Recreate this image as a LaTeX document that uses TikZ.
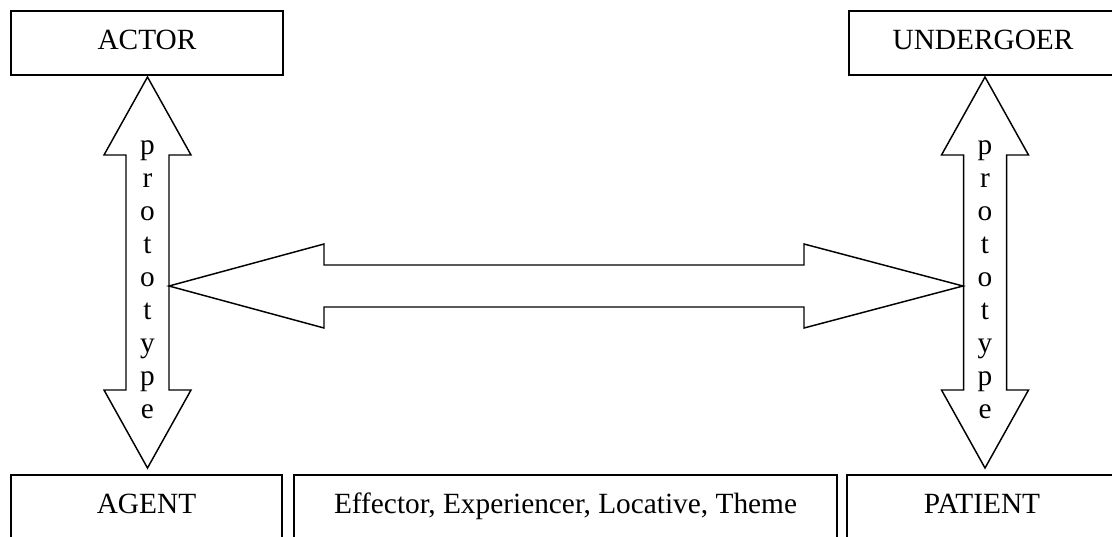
\documentclass[tikz,border=0pt]{standalone}
\usepackage{fontspec}
\setmainfont{Liberation Serif}
\usetikzlibrary{calc}

\tikzset{
  role/.style={draw, line width=1.5pt, inner sep=0pt, anchor=base,
    text height=28.5pt, font=\fontsize{22}{26}\selectfont},
  toprole/.style={role, text depth=19.3pt},
  baserole/.style={role, text depth=50pt},
  blockarrow/.style={draw, line width=1.1pt, miter limit=4},
  letter/.style={anchor=base, inner sep=0pt, font=\fontsize{22}{26}\selectfont},
}

% vertical double block arrow between two tip coordinates
\newcommand\vblock[2]{%
  \draw[blockarrow] (#1) -- ($(#1)+(43.5,78)$) -- ($(#1)+(21.5,78)$)
    -- ($(#2)+(21.5,-78)$) -- ($(#2)+(43.5,-78)$) -- (#2)
    -- ($(#2)+(-43.5,-78)$) -- ($(#2)+(-21.5,-78)$)
    -- ($(#1)+(-21.5,78)$) -- ($(#1)+(-43.5,78)$) -- cycle;}

% horizontal double block arrow between two tip coordinates
\newcommand\hblock[2]{%
  \draw[blockarrow] (#1) -- ($(#1)+(155,-42)$) -- ($(#1)+(155,-21)$)
    -- ($(#2)+(-159,-21)$) -- ($(#2)+(-159,-42)$) -- (#2)
    -- ($(#2)+(-159,42)$) -- ($(#2)+(-159,21)$)
    -- ($(#1)+(155,21)$) -- ($(#1)+(155,42)$) -- cycle;}

\begin{document}
\begin{tikzpicture}[x=0.75pt, y=-0.75pt]
  \clip (0,0) rectangle (1112,536);

  % macroroles
  \node[toprole, minimum width=204pt] (actor) at (147,49.3) {ACTOR};
  \node[toprole, minimum width=201pt] (undergoer) at (983,49.3) {UNDERGOER};

  % thematic relations
  \node[baserole, minimum width=203.25pt] (agent) at (146.5,513) {AGENT};
  \node[baserole, minimum width=407.25pt] (roles) at (565.5,513)
    {Effector, Experiencer, Locative, Theme};
  \node[baserole, minimum width=202.5pt] (patient) at (982,513) {PATIENT};

  % arrow tips
  \coordinate (lt) at (147.5,77);
  \coordinate (lb) at (147.5,468);
  \coordinate (rt) at (985,77);
  \coordinate (rb) at (985,468);
  \coordinate (hl) at (169,286);
  \coordinate (hr) at (963,286);

  \vblock{lt}{lb}
  \vblock{rt}{rb}
  \hblock{hl}{hr}

  % "prototype" written down both vertical arrows
  \foreach \c [count=\i from 0] in {p,r,o,t,o,t,y,p,e} {
    \node[letter] (pl\i) at (147.5,154.3+33*\i) {\c};
    \node[letter] (pr\i) at (985,154.3+33*\i) {\c};
  }
\end{tikzpicture}
\end{document}
